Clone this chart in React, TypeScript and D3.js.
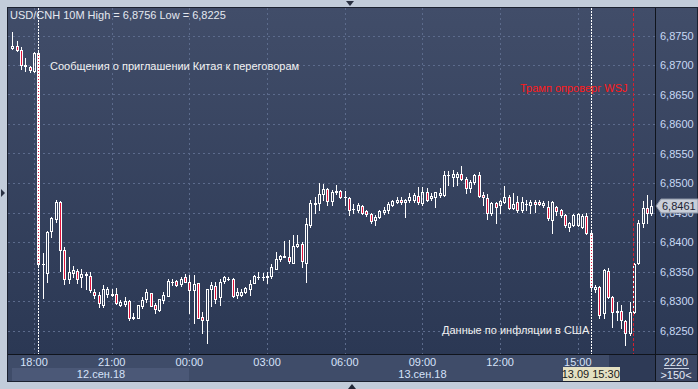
import React, { useRef, useEffect } from 'react';
import * as d3 from 'd3';

// USD/CNH, 10-minute candles, 12.09.2018 17:10 .. 13.09.2018 17:50
const firstBar = '2018-09-12 17:10';
const lastBar = '2018-09-13 17:50';

const opens = [
  6.8729, 6.8732, 6.8725, 6.8698, 6.8697, 6.8689, 6.8721, 6.8362, 6.8348, 6.8418,
  6.8439, 6.8468, 6.8386, 6.8337, 6.8347, 6.8351, 6.8340, 6.8344, 6.8342, 6.8316,
  6.8310, 6.8293, 6.8312, 6.8312, 6.8312, 6.8293, 6.8295, 6.8300, 6.8271, 6.8272,
  6.8292, 6.8303, 6.8313, 6.8293, 6.8285, 6.8302, 6.8309, 6.8333, 6.8334, 6.8328,
  6.8340, 6.8333, 6.8318, 6.8330, 6.8273, 6.8267, 6.8320, 6.8325, 6.8306, 6.8334,
  6.8338, 6.8338, 6.8310, 6.8311, 6.8315, 6.8320, 6.8330, 6.8340, 6.8341, 6.8341,
  6.8342, 6.8355, 6.8371, 6.8375, 6.8374, 6.8365, 6.8393, 6.8397, 6.8365, 6.8429,
  6.8465, 6.8466, 6.8481, 6.8489, 6.8470, 6.8484, 6.8487, 6.8476, 6.8474, 6.8456,
  6.8455, 6.8461, 6.8452, 6.8447, 6.8437, 6.8442, 6.8451, 6.8454, 6.8463, 6.8467,
  6.8471, 6.8467, 6.8471, 6.8471, 6.8478, 6.8466, 6.8485, 6.8474, 6.8476, 6.8479,
  6.8480, 6.8513, 6.8511, 6.8511, 6.8516, 6.8507, 6.8491, 6.8501, 6.8514, 6.8480,
  6.8474, 6.8449, 6.8466, 6.8463, 6.8468, 6.8476, 6.8458, 6.8467, 6.8454, 6.8464,
  6.8463, 6.8468, 6.8468, 6.8462, 6.8460, 6.8437, 6.8459, 6.8454, 6.8446, 6.8426,
  6.8429, 6.8429, 6.8426, 6.8444, 6.8415, 6.8320, 6.8323, 6.8279, 6.8351, 6.8306,
  6.8281, 6.8283, 6.8266, 6.8245, 6.8282, 6.8364, 6.8432, 6.8457, 6.8450,
];
const highs = [
  6.8756, 6.8741, 6.8730, 6.8712, 6.8698, 6.8722, 6.8722, 6.8381, 6.8418, 6.8443,
  6.8471, 6.8469, 6.8392, 6.8375, 6.8359, 6.8355, 6.8354, 6.8350, 6.8350, 6.8320,
  6.8316, 6.8327, 6.8324, 6.8320, 6.8322, 6.8302, 6.8306, 6.8301, 6.8279, 6.8294,
  6.8306, 6.8320, 6.8314, 6.8297, 6.8304, 6.8315, 6.8337, 6.8337, 6.8335, 6.8341,
  6.8345, 6.8344, 6.8344, 6.8331, 6.8282, 6.8320, 6.8332, 6.8333, 6.8338, 6.8342,
  6.8340, 6.8339, 6.8322, 6.8320, 6.8323, 6.8336, 6.8344, 6.8349, 6.8347, 6.8350,
  6.8363, 6.8383, 6.8378, 6.8402, 6.8403, 6.8412, 6.8412, 6.8400, 6.8440, 6.8472,
  6.8476, 6.8500, 6.8498, 6.8491, 6.8488, 6.8497, 6.8488, 6.8487, 6.8476, 6.8464,
  6.8466, 6.8462, 6.8455, 6.8449, 6.8446, 6.8455, 6.8459, 6.8468, 6.8472, 6.8476,
  6.8476, 6.8473, 6.8483, 6.8483, 6.8493, 6.8494, 6.8491, 6.8483, 6.8485, 6.8491,
  6.8520, 6.8521, 6.8522, 6.8519, 6.8528, 6.8510, 6.8505, 6.8516, 6.8518, 6.8485,
  6.8481, 6.8468, 6.8468, 6.8472, 6.8495, 6.8480, 6.8483, 6.8478, 6.8476, 6.8472,
  6.8472, 6.8472, 6.8471, 6.8470, 6.8470, 6.8470, 6.8461, 6.8456, 6.8448, 6.8434,
  6.8448, 6.8450, 6.8447, 6.8450, 6.8418, 6.8327, 6.8325, 6.8355, 6.8356, 6.8309,
  6.8299, 6.8293, 6.8268, 6.8299, 6.8364, 6.8437, 6.8470, 6.8480, 6.8471,
];
const lows = [
  6.8727, 6.8724, 6.8694, 6.8689, 6.8688, 6.8688, 6.8361, 6.8305, 6.8333, 6.8408,
  6.8434, 6.8351, 6.8329, 6.8330, 6.8340, 6.8330, 6.8324, 6.8321, 6.8316, 6.8305,
  6.8290, 6.8290, 6.8307, 6.8308, 6.8295, 6.8292, 6.8292, 6.8267, 6.8269, 6.8271,
  6.8288, 6.8299, 6.8291, 6.8279, 6.8283, 6.8297, 6.8308, 6.8327, 6.8326, 6.8325,
  6.8332, 6.8279, 6.8263, 6.8272, 6.8245, 6.8228, 6.8292, 6.8297, 6.8293, 6.8331,
  6.8336, 6.8306, 6.8305, 6.8309, 6.8313, 6.8310, 6.8330, 6.8337, 6.8335, 6.8331,
  6.8339, 6.8354, 6.8367, 6.8374, 6.8365, 6.8364, 6.8391, 6.8358, 6.8333, 6.8426,
  6.8449, 6.8455, 6.8472, 6.8462, 6.8462, 6.8481, 6.8474, 6.8463, 6.8446, 6.8450,
  6.8451, 6.8448, 6.8444, 6.8432, 6.8428, 6.8440, 6.8447, 6.8449, 6.8461, 6.8466,
  6.8465, 6.8443, 6.8468, 6.8468, 6.8464, 6.8463, 6.8470, 6.8472, 6.8460, 6.8477,
  6.8478, 6.8497, 6.8495, 6.8497, 6.8505, 6.8483, 6.8485, 6.8498, 6.8477, 6.8463,
  6.8439, 6.8446, 6.8432, 6.8450, 6.8466, 6.8456, 6.8456, 6.8451, 6.8451, 6.8455,
  6.8449, 6.8451, 6.8462, 6.8460, 6.8437, 6.8415, 6.8445, 6.8443, 6.8426, 6.8418,
  6.8427, 6.8427, 6.8424, 6.8413, 6.8318, 6.8316, 6.8272, 6.8272, 6.8305, 6.8256,
  6.8268, 6.8254, 6.8225, 6.8242, 6.8280, 6.8363, 6.8425, 6.8433, 6.8446,
];
const closes = [
  6.8732, 6.8725, 6.8700, 6.8700, 6.8692, 6.8721, 6.8362, 6.8363, 6.8417, 6.8440,
  6.8468, 6.8386, 6.8337, 6.8350, 6.8352, 6.8338, 6.8346, 6.8345, 6.8319, 6.8310,
  6.8296, 6.8320, 6.8320, 6.8311, 6.8296, 6.8298, 6.8300, 6.8271, 6.8273, 6.8293,
  6.8302, 6.8315, 6.8292, 6.8286, 6.8303, 6.8310, 6.8334, 6.8333, 6.8327, 6.8337,
  6.8333, 6.8319, 6.8329, 6.8272, 6.8268, 6.8320, 6.8327, 6.8303, 6.8332, 6.8340,
  6.8338, 6.8309, 6.8316, 6.8316, 6.8322, 6.8329, 6.8342, 6.8341, 6.8341, 6.8342,
  6.8357, 6.8372, 6.8376, 6.8376, 6.8367, 6.8393, 6.8397, 6.8367, 6.8430, 6.8466,
  6.8466, 6.8481, 6.8489, 6.8470, 6.8484, 6.8487, 6.8476, 6.8476, 6.8455, 6.8456,
  6.8462, 6.8450, 6.8448, 6.8436, 6.8443, 6.8453, 6.8455, 6.8464, 6.8470, 6.8471,
  6.8467, 6.8471, 6.8476, 6.8480, 6.8467, 6.8485, 6.8472, 6.8478, 6.8484, 6.8483,
  6.8514, 6.8514, 6.8515, 6.8516, 6.8506, 6.8491, 6.8501, 6.8514, 6.8478, 6.8476,
  6.8449, 6.8466, 6.8460, 6.8470, 6.8476, 6.8458, 6.8464, 6.8454, 6.8467, 6.8465,
  6.8468, 6.8464, 6.8464, 6.8466, 6.8440, 6.8468, 6.8453, 6.8446, 6.8429, 6.8432,
  6.8446, 6.8448, 6.8444, 6.8415, 6.8324, 6.8324, 6.8276, 6.8353, 6.8306, 6.8282,
  6.8283, 6.8268, 6.8245, 6.8282, 6.8362, 6.8432, 6.8457, 6.8450, 6.8461,
];

const priceTicks = [6.825, 6.83, 6.835, 6.84, 6.845, 6.85, 6.855, 6.86, 6.865, 6.87, 6.875];
const timeTicks = ['2018-09-12 18:00', '2018-09-12 21:00', '2018-09-13 00:00', '2018-09-13 03:00',
  '2018-09-13 06:00', '2018-09-13 09:00', '2018-09-13 12:00', '2018-09-13 15:00'];

const eventTimes = ['2018-09-12 18:10', '2018-09-13 15:30'];
const eventLabels = ['Сообщения о приглашении Китая к переговорам', 'Данные по инфляции в США'];
const trumpTime = '2018-09-13 17:08';
const trumpLabel = 'Трамп опроверг WSJ';

const title = 'USD/CNH 10M High = 6,8756 Low = 6,8225';
const lastPrice = 6.8461;

const W = 698, H = 389;
const plot = { left: 8, right: 655, top: 8, bottom: 354 };
const FONT = '"Liberation Sans", Arial, sans-serif';

const parse = d3.timeParse('%Y-%m-%d %H:%M');
const comma = (v: number) => d3.format('.4f')(v).replace('.', ',');

const Chart = () => {
  const svgRef = useRef(null);

  useEffect(() => {
    if (!svgRef.current) return;
    const svg = d3.select(svgRef.current);
    svg.selectAll('*').remove();

    const times = d3.timeMinute.every(10)!.range(parse(firstBar)!, d3.timeMinute.offset(parse(lastBar)!, 1));
    const bars = times.map((t, i) => ({ t, o: opens[i], h: highs[i], l: lows[i], c: closes[i] }));

    const x = d3.scaleTime()
      .domain([parse('2018-09-12 18:00')!, parse('2018-09-13 15:00')!])
      .range([34, 577.8]);
    const y = d3.scaleLinear().domain([6.825, 6.875]).range([330.5, 35.5]);

    const defs = svg.append('defs');
    const grad = defs.append('linearGradient').attr('id', 'bg').attr('x1', 0).attr('y1', 0).attr('x2', 0).attr('y2', 1);
    grad.append('stop').attr('offset', '0%').attr('stop-color', '#414d69');
    grad.append('stop').attr('offset', '100%').attr('stop-color', '#2b3854');
    defs.append('clipPath').attr('id', 'plotClip')
      .append('rect').attr('x', plot.left).attr('y', plot.top)
      .attr('width', plot.right - plot.left).attr('height', plot.bottom - plot.top);

    // layers: shapes, then texts, then the last-price marker
    const base = svg.append('g');
    const txt = svg.append('g').attr('font-family', FONT).attr('font-size', 11);
    const topLayer = svg.append('g').attr('font-family', FONT).attr('font-size', 11);

    // outer window
    base.append('rect').attr('width', W).attr('height', H).attr('fill', '#c2ccda');
    base.append('rect').attr('x', 7.5).attr('y', 7.5).attr('width', 690).attr('height', 374)
      .attr('fill', '#3d4966').attr('stroke', '#1b2130');
    base.append('rect').attr('x', plot.left).attr('y', plot.top)
      .attr('width', W - 1 - plot.left).attr('height', plot.bottom - plot.top).attr('fill', 'url(#bg)');

    // small triangles of the frame
    base.append('path').attr('d', 'M346,1 L354,1 L350,6 Z').attr('fill', '#2a3142');
    base.append('path').attr('d', 'M348,389 L356,389 L352,384 Z').attr('fill', '#1f2636');
    base.append('path').attr('d', 'M1,189 L1,197 L5,193 Z').attr('fill', '#2a3142');

    // grid
    const grid = base.append('g').attr('stroke', '#5c6b8c').attr('stroke-dasharray', '2,3').attr('stroke-width', 1);
    grid.selectAll('line.h').data(priceTicks).enter().append('line')
      .attr('x1', plot.left).attr('x2', plot.right)
      .attr('y1', d => Math.round(y(d)) + 0.5).attr('y2', d => Math.round(y(d)) + 0.5);
    grid.selectAll('line.v').data(timeTicks).enter().append('line')
      .attr('x1', d => Math.round(x(parse(d)!)) + 0.5).attr('x2', d => Math.round(x(parse(d)!)) + 0.5)
      .attr('y1', plot.top).attr('y2', plot.bottom);

    // candles
    const cg = base.append('g').attr('clip-path', 'url(#plotClip)');
    bars.forEach(b => {
      const cx = Math.round(x(b.t));
      const top = Math.round(y(Math.max(b.o, b.c))) + 0.5;
      const bot = Math.round(y(Math.min(b.o, b.c))) + 0.5;
      const hy = Math.round(y(b.h)) + 0.5;
      const ly = Math.round(y(b.l)) + 0.5;
      const g = cg.append('g').attr('stroke', '#ffffff').attr('stroke-width', 1);
      if (hy < top) g.append('line').attr('x1', cx + 0.5).attr('x2', cx + 0.5).attr('y1', hy - 0.5).attr('y2', top);
      if (ly > bot) g.append('line').attr('x1', cx + 0.5).attr('x2', cx + 0.5).attr('y1', bot).attr('y2', ly + 0.5);
      if (bot - top < 1) {
        g.append('line').attr('x1', cx - 1).attr('x2', cx + 2).attr('y1', top).attr('y2', top);
      } else {
        g.append('rect').attr('x', cx - 0.5).attr('y', top).attr('width', 2).attr('height', bot - top)
          .attr('fill', b.c < b.o ? '#e0143c' : 'none');
      }
    });

    // event lines
    eventTimes.forEach(t => {
      const ex = Math.round(x(parse(t)!)) + 0.5;
      base.append('line').attr('x1', ex).attr('x2', ex).attr('y1', plot.top).attr('y2', plot.bottom)
        .attr('stroke', '#ffffff').attr('stroke-dasharray', '2,1');
    });
    const tx = Math.round(x(parse(trumpTime)!)) + 0.5;
    base.append('line').attr('x1', tx).attr('x2', tx).attr('y1', plot.top).attr('y2', plot.bottom)
      .attr('stroke', '#d42030').attr('stroke-dasharray', '3,2');

    // axis frames
    base.append('line').attr('x1', plot.right + 0.5).attr('x2', plot.right + 0.5)
      .attr('y1', plot.top).attr('y2', 381).attr('stroke', '#10141c');
    base.append('rect').attr('x', plot.left).attr('y', 355).attr('width', plot.right - plot.left).attr('height', 26)
      .attr('fill', '#3f4c69');
    base.append('rect').attr('x', 12).attr('y', 368).attr('width', Math.round(x(parse('2018-09-13 00:00')!)) - 12)
      .attr('height', 13).attr('fill', '#4b5877');
    base.append('rect').attr('x', 609).attr('y', 355).attr('width', plot.right - 609).attr('height', 26)
      .attr('fill', '#2e3a56');
    base.append('rect').attr('x', 656).attr('y', 355).attr('width', 41).attr('height', 26).attr('fill', '#3a4663');
    base.append('line').attr('x1', plot.left).attr('x2', W - 1)
      .attr('y1', plot.bottom + 0.5).attr('y2', plot.bottom + 0.5).attr('stroke', '#10141c');

    // cursor time tag box
    const curX = x(parse(eventTimes[1])!);
    base.append('rect').attr('x', Math.round(curX) - 28).attr('y', 367).attr('width', 57).attr('height', 14)
      .attr('fill', '#e4e0c2');
    base.append('line').attr('x1', 664).attr('x2', 689).attr('y1', 368.5).attr('y2', 368.5).attr('stroke', '#c8d0e0');

    // texts
    txt.append('text').attr('x', 10).attr('y', 19).attr('fill', '#e4e8f0').text(title);
    txt.append('text').attr('x', 50).attr('y', 70).attr('fill', '#f2f2f2').text(eventLabels[0]);
    txt.append('text').attr('x', 442).attr('y', 334).attr('fill', '#f2f2f2').text(eventLabels[1]);
    txt.append('text').attr('x', 520).attr('y', 92).attr('fill', '#ff1a1a').text(trumpLabel);

    txt.selectAll('text.p').data(priceTicks).enter().append('text')
      .attr('x', 660).attr('y', d => y(d) + 4).attr('fill', '#c8d8f4')
      .text(d => comma(d));

    txt.selectAll('text.t').data(timeTicks).enter().append('text')
      .attr('x', d => x(parse(d)!)).attr('y', 366).attr('text-anchor', 'middle').attr('fill', '#d6e2fa')
      .text(d => d3.timeFormat('%H:%M')(parse(d)!));
    txt.append('text').attr('x', 101).attr('y', 378).attr('text-anchor', 'middle')
      .attr('fill', '#d6e2fa').text('12.сен.18');
    txt.append('text').attr('x', x(parse('2018-09-13 09:00')!)).attr('y', 378).attr('text-anchor', 'middle')
      .attr('fill', '#d6e2fa').text('13.сен.18');
    txt.append('text').attr('x', curX).attr('y', 378).attr('text-anchor', 'middle')
      .attr('fill', '#1a1a1a').text(d3.timeFormat('%d.%m %H:%M')(parse(eventTimes[1])!));

    txt.append('text').attr('x', 676).attr('y', 366).attr('text-anchor', 'middle')
      .attr('fill', '#e4eaf6').text('2220');
    txt.append('text').attr('x', 676).attr('y', 379).attr('text-anchor', 'middle')
      .attr('fill', '#e4eaf6').text(`>${bars.length + 1}<`);

    // last price marker, drawn over the price ticks
    const py = Math.round(y(lastPrice));
    topLayer.append('path')
      .attr('d', `M656,${py} L661,${py - 7} L698,${py - 7} L698,${py + 7} L661,${py + 7} Z`)
      .attr('fill', '#c9ced8').attr('stroke', '#8a93a4');
    topLayer.append('text').attr('x', 662).attr('y', py + 4).attr('fill', '#1c2434')
      .text(comma(lastPrice));
  }, []);

  return <svg ref={svgRef} width={W} height={H} style={{ position: 'absolute', left: 0, top: 0 }} />;
};

export default function App() {
  return <Chart />;
}
